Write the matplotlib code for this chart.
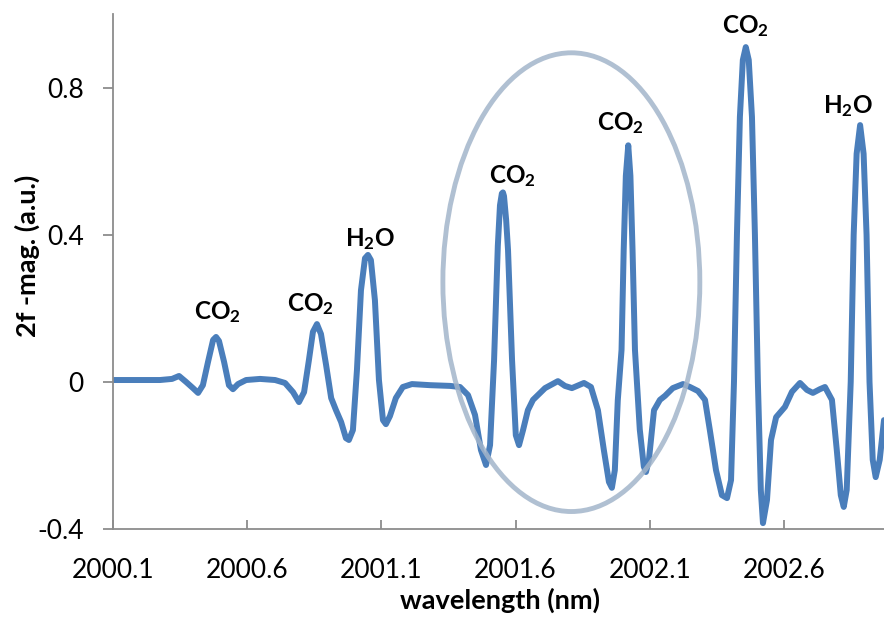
import numpy as np
import matplotlib
matplotlib.use('Agg')
import matplotlib.pyplot as plt
from matplotlib.patches import Ellipse

plt.rcParams['font.family'] = ['Lato', 'DejaVu Sans']
plt.rcParams['mathtext.fontset'] = 'custom'
plt.rcParams['mathtext.rm'] = 'Lato'
plt.rcParams['mathtext.bf'] = 'Lato:bold'

#wavelength (nm) and 2f magnitude
wl = [2000.100, 2000.201, 2000.275, 2000.320, 2000.346, 2000.372, 2000.398, 2000.417, 2000.435, 2000.454,
      2000.473, 2000.484, 2000.495, 2000.514, 2000.532, 2000.547, 2000.566, 2000.596, 2000.648, 2000.704,
      2000.741, 2000.771, 2000.793, 2000.812, 2000.830, 2000.845, 2000.860, 2000.875, 2000.894, 2000.913,
      2000.931, 2000.950, 2000.968, 2000.979, 2000.994, 2001.009, 2001.024, 2001.039, 2001.050, 2001.061,
      2001.076, 2001.091, 2001.106, 2001.117, 2001.132, 2001.154, 2001.180, 2001.214, 2001.281, 2001.356,
      2001.393, 2001.423, 2001.449, 2001.471, 2001.490, 2001.505, 2001.520, 2001.534, 2001.542, 2001.549,
      2001.553, 2001.557, 2001.565, 2001.572, 2001.587, 2001.601, 2001.613, 2001.628, 2001.646, 2001.665,
      2001.710, 2001.758, 2001.784, 2001.810, 2001.855, 2001.881, 2001.907, 2001.929, 2001.948, 2001.959,
      2001.970, 2001.981, 2001.995, 2002.003, 2002.011, 2002.020, 2002.028, 2002.036, 2002.045, 2002.063,
      2002.078, 2002.086, 2002.097, 2002.116, 2002.138, 2002.157, 2002.186, 2002.224, 2002.250, 2002.280,
      2002.306, 2002.324, 2002.347, 2002.369, 2002.388, 2002.403, 2002.414, 2002.425, 2002.436, 2002.447,
      2002.458, 2002.469, 2002.481, 2002.492, 2002.503, 2002.514, 2002.522, 2002.537, 2002.552, 2002.571,
      2002.604, 2002.630, 2002.660, 2002.686, 2002.708, 2002.734, 2002.753, 2002.779, 2002.797, 2002.812,
      2002.823, 2002.834, 2002.849, 2002.860, 2002.871, 2002.884, 2002.897, 2002.908, 2002.919, 2002.931,
      2002.942, 2002.957, 2002.973]

mag = [0.005, 0.005, 0.005, 0.008, 0.016, 0.000, -0.017, -0.030, -0.009, 0.054,
       0.114, 0.122, 0.111, 0.054, -0.009, -0.020, -0.006, 0.005, 0.008, 0.005,
       -0.003, -0.028, -0.055, -0.028, 0.059, 0.136, 0.157, 0.130, 0.046, -0.044,
       -0.077, -0.109, -0.153, -0.158, -0.131, 0.032, 0.249, 0.336, 0.345, 0.331,
       0.222, 0.005, -0.104, -0.115, -0.093, -0.044, -0.014, -0.006, -0.009, -0.011,
       -0.014, -0.036, -0.090, -0.185, -0.226, -0.172, 0.059, 0.370, 0.480, 0.512,
       0.515, 0.505, 0.440, 0.358, 0.059, -0.145, -0.172, -0.131, -0.077, -0.049,
       -0.017, 0.002, -0.011, -0.017, -0.003, -0.014, -0.077, -0.185, -0.272, -0.288,
       -0.240, -0.050, 0.087, 0.358, 0.560, 0.643, 0.560, 0.358, 0.087, -0.130,
       -0.230, -0.245, -0.212, -0.077, -0.049, -0.038, -0.017, -0.006, -0.014, -0.025,
       -0.049, -0.131, -0.240, -0.308, -0.316, -0.267, 0.000, 0.400, 0.720, 0.875,
       0.910, 0.875, 0.720, 0.400, 0.000, -0.294, -0.384, -0.321, -0.158, -0.096,
       -0.068, -0.027, -0.003, -0.022, -0.030, -0.020, -0.014, -0.049, -0.185, -0.308,
       -0.340, -0.294, 0.000, 0.400, 0.620, 0.698, 0.620, 0.400, 0.000, -0.212,
       -0.259, -0.212, -0.104]

#peak labels
peak_names = [r'$\mathbf{CO_2}$', r'$\mathbf{CO_2}$', r'$\mathbf{H_2O}$', r'$\mathbf{CO_2}$',
              r'$\mathbf{CO_2}$', r'$\mathbf{CO_2}$', r'$\mathbf{H_2O}$']
peak_x = [2000.491, 2000.834, 2001.058, 2001.590, 2001.989, 2002.455, 2002.839]
peak_y = [0.171, 0.192, 0.369, 0.540, 0.684, 0.948, 0.730]

xticks = [2000.1, 2000.6, 2001.1, 2001.6, 2002.1, 2002.6]
yticks = [-0.4, 0, 0.4, 0.8]

fig = plt.figure(figsize=(8.84, 6.17), dpi=100)
ax = fig.add_axes([113/884, 88/617, 771/884, 515/617])

ax.plot(wl, mag, color='#4a7ebb', lw=4.3, solid_joinstyle='round', solid_capstyle='round', zorder=2)

#circled region
ell = Ellipse((2001.808, 0.271), 0.9575, 1.247, fill=False, edgecolor='#a3b5ca',
              lw=3.5, alpha=0.85, zorder=3)
ax.add_patch(ell)

for name, px, py in zip(peak_names, peak_x, peak_y):
    ax.text(px, py, name, ha='center', va='baseline', fontsize=17.5, color='black')

ax.set_xlim(2000.1, 2002.973)
ax.set_ylim(-0.4, 1.0)
ax.set_xticks(xticks)
ax.set_xticklabels([str(t) for t in xticks])
ax.set_yticks(yticks)
ax.set_yticklabels(['-0.4', '0', '0.4', '0.8'])

for s in ['top', 'right']:
    ax.spines[s].set_visible(False)
for s in ['left', 'bottom']:
    ax.spines[s].set_color('#8c8c8c')
    ax.spines[s].set_linewidth(1.3)

ax.tick_params(axis='x', direction='in', length=6.5, width=1.3, color='#8c8c8c', pad=21, labelsize=19)
ax.tick_params(axis='y', direction='out', length=7, width=1.3, color='#8c8c8c', pad=14, labelsize=19)

ax.set_xlabel('wavelength (nm)', fontsize=19.5, fontweight='bold')
ax.xaxis.set_label_coords(0.502, -0.113)
ax.xaxis.label.set_va('top')
ax.set_ylabel('2f -mag. (a.u.)', fontsize=19.5, fontweight='bold')
ax.yaxis.set_label_coords(-0.095, 0.53)

fig.savefig('out.png', dpi=100)
